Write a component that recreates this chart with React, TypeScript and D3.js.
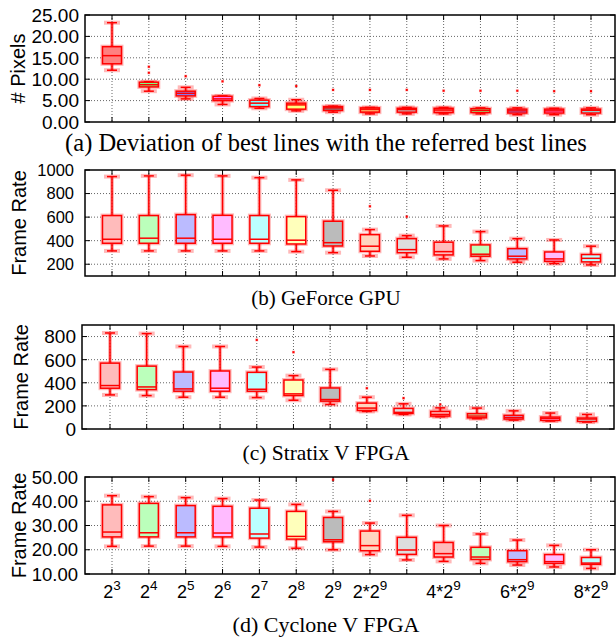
import React from "react";
import * as d3 from "d3";

const xBase = ["2", "2", "2", "2", "2", "2", "2", "2*2", "", "4*2", "", "6*2", "", "8*2"];
const xExp = ["3", "4", "5", "6", "7", "8", "9", "9", "", "9", "", "9", "", "9"];

const lightColors = ["#ffbbbb", "#bbffbb", "#bbbbff", "#ffbbff", "#bbffff", "#ffffbb", "#bbbbbb", "#ffd5bf", "#dddddd", "#ffbbbb", "#bbffbb", "#bbbbff", "#ffbbff", "#bbffff"];
const strongColors = ["#ff8080", "#80ff80", "#8080ff", "#ff80ff", "#80ffff", "#ffff80", "#808080", "#ffa060", "#c0c0c0", "#ff8080", "#80ff80", "#8080ff", "#ff80ff", "#80ffff"];

// (a) Deviation (# Pixels)
const pixMax = [23.2, 9.4, 8.1, 6.1, 5.5, 5.2, 3.7, 3.4, 3.4, 3.4, 3.3, 3.3, 3.2, 3.3];
const pixQ3 = [17.6, 9.3, 7.2, 6.0, 5.1, 4.4, 3.6, 3.3, 3.2, 3.2, 3.1, 3.0, 3.0, 3.0];
const pixMed = [15.5, 8.7, 6.7, 5.4, 4.4, 4.0, 3.3, 3.0, 2.9, 2.8, 2.7, 2.6, 2.6, 2.7];
const pixQ1 = [13.6, 8.2, 6.1, 5.0, 3.6, 3.0, 2.7, 2.3, 2.3, 2.2, 2.2, 2.1, 2.1, 2.1];
const pixMin = [12.1, 7.2, 5.4, 4.1, 3.2, 2.6, 2.3, 1.9, 1.9, 1.9, 1.9, 1.7, 1.7, 1.7];
const pixOut = [[], [12.9, 11.5], [10.7], [9.5], [8.6], [8.4], [7.5], [7.5], [7.5], [7.3], [7.3], [7.3], [7.2], [7.2]];
const pixTicks = [0, 5, 10, 15, 20, 25];

// (b) GeForce GPU
const gpuMax = [944, 950, 956, 950, 935, 916, 828, 494, 443, 525, 477, 417, 406, 353];
const gpuQ3 = [613, 613, 621, 615, 613, 604, 565, 451, 417, 387, 364, 332, 304, 282];
const gpuMed = [412, 421, 421, 412, 412, 404, 383, 353, 324, 307, 285, 268, 245, 250];
const gpuQ1 = [378, 378, 378, 378, 378, 372, 355, 310, 298, 279, 268, 245, 225, 220];
const gpuMin = [313, 313, 313, 313, 313, 307, 298, 270, 259, 245, 231, 217, 205, 194];
const gpuOut = [[], [], [], [], [], [], [], [692], [604], [], [], [], [], []];
const gpuTicks = [200, 400, 600, 800, 1000];

// (c) Stratix V FPGA
const strMax = [831, 826, 714, 714, 536, 462, 516, 275, 218, 183, 181, 157, 138, 126];
const strQ3 = [570, 544, 493, 502, 490, 424, 355, 224, 178, 152, 132, 118, 103, 95];
const strMed = [376, 364, 347, 353, 344, 304, 255, 181, 144, 126, 112, 100, 92, 86];
const strQ1 = [353, 341, 327, 327, 327, 290, 241, 161, 135, 112, 97, 86, 75, 66];
const strMin = [295, 289, 275, 275, 272, 249, 212, 152, 126, 106, 89, 77, 69, 60];
const strOut = [[], [], [], [], [771], [665], [], [353], [267], [212], [], [], [], []];
const strTicks = [0, 200, 400, 600, 800];

// (d) Cyclone V FPGA
const cycMax = [42.3, 41.9, 41.5, 41.1, 40.5, 38.7, 35.8, 31.0, 34.2, 30.0, 26.5, 24.0, 21.8, 20.0];
const cycQ3 = [38.5, 39.1, 38.2, 37.9, 37.1, 35.8, 33.3, 27.7, 25.1, 23.0, 21.0, 19.6, 18.0, 16.8];
const cycMed = [27.3, 27.0, 27.0, 26.9, 26.5, 25.5, 24.1, 21.7, 19.9, 18.4, 17.0, 15.9, 15.1, 14.5];
const cycQ1 = [25.3, 25.3, 25.3, 25.3, 24.8, 24.4, 23.3, 19.6, 18.1, 17.0, 16.0, 15.1, 14.4, 14.0];
const cycMin = [21.4, 21.5, 21.5, 21.4, 21.1, 20.6, 20.0, 18.0, 15.8, 15.2, 14.4, 13.7, 12.9, 12.3];
const cycOut = [[], [], [], [], [], [], [48.9], [40.2], [], [], [], [], [], []];
const cycTicks = [10, 20, 30, 40, 50];

const SANS = "'Liberation Sans', Arial, Helvetica, sans-serif";
const SERIF = "'Liberation Serif', 'Times New Roman', Times, serif";
const RED = "#ff0000";
const HALO = "rgba(255,0,0,0.28)";

type PanelProps = {
  mx: number[]; q3: number[]; med: number[]; q1: number[]; mn: number[]; out: number[][];
  ticks: number[]; domain: [number, number]; fmt: (v: number) => string; tickSize: number;
  left: number; top: number; right: number; bottom: number; x0: number; x1: number;
  labelEnd: number; ylabel: string; ylabelX: number; caption: string; captionY: number; captionSize: number;
  colors: string[]; showX: boolean;
};

function Panel(p: PanelProps) {
  const n = p.med.length;
  const x = d3.scaleLinear().domain([0, n - 1]).range([p.x0, p.x1]);
  const y = d3.scaleLinear().domain(p.domain).range([p.bottom, p.top]);
  const bw = 19;
  const cap = 8;
  const idx = d3.range(n);
  return (
    <g>
      {p.ticks.filter(t => y(t) > p.top + 1 && y(t) < p.bottom - 1).map(t => (
        <line key={"gy" + t} x1={p.left} x2={p.right} y1={y(t)} y2={y(t)} stroke="#666" strokeWidth={1} strokeDasharray="1,2" />
      ))}
      {idx.map(i => (
        <line key={"gx" + i} x1={x(i)} x2={x(i)} y1={p.top} y2={p.bottom} stroke="#666" strokeWidth={1} strokeDasharray="1,2" />
      ))}
      {p.ticks.map(t => (
        <g key={"tk" + t}>
          <line x1={p.left} x2={p.left + 5} y1={y(t)} y2={y(t)} stroke="#000" strokeWidth={1} />
          <line x1={p.right - 5} x2={p.right} y1={y(t)} y2={y(t)} stroke="#000" strokeWidth={1} />
          <text x={p.labelEnd} y={y(t)} dy="0.36em" textAnchor="end" fontFamily={SANS} fontSize={p.tickSize} fill="#000">{p.fmt(t)}</text>
        </g>
      ))}
      {idx.map(i => (
        <g key={"xt" + i}>
          <line x1={x(i)} x2={x(i)} y1={p.bottom} y2={p.bottom - 5} stroke="#000" strokeWidth={1} />
          <line x1={x(i)} x2={x(i)} y1={p.top} y2={p.top + 5} stroke="#000" strokeWidth={1} />
        </g>
      ))}
      {idx.map(i => {
        const cx = x(i);
        const yq3 = y(p.q3[i]);
        const yq1 = y(p.q1[i]);
        const ym = y(p.med[i]);
        const yMax = y(p.mx[i]);
        const yMin = y(p.mn[i]);
        return (
          <g key={"b" + i}>
            <g stroke={HALO} strokeWidth={4} fill="none">
              <line x1={cx} x2={cx} y1={yMax} y2={yq3} />
              <line x1={cx} x2={cx} y1={yq1} y2={yMin} />
              <line x1={cx - cap} x2={cx + cap} y1={yMax} y2={yMax} />
              <line x1={cx - cap} x2={cx + cap} y1={yMin} y2={yMin} />
              <rect x={cx - bw / 2} y={yq3} width={bw} height={Math.max(1, yq1 - yq3)} />
            </g>
            <rect x={cx - bw / 2} y={yq3} width={bw} height={Math.max(1, yq1 - yq3)} fill={p.colors[i]} stroke={RED} strokeWidth={1.5} />
            <g stroke={RED} strokeWidth={1.5}>
              <line x1={cx} x2={cx} y1={yMax} y2={yq3} />
              <line x1={cx} x2={cx} y1={yq1} y2={yMin} />
              <line x1={cx - cap / 2 - 1} x2={cx + cap / 2 + 1} y1={yMax} y2={yMax} />
              <line x1={cx - cap / 2 - 1} x2={cx + cap / 2 + 1} y1={yMin} y2={yMin} />
              <line x1={cx - bw / 2} x2={cx + bw / 2} y1={ym} y2={ym} />
            </g>
            {p.out[i].map((o, k) => (
              <rect key={k} x={cx - 1} y={y(o) - 1} width={2} height={2} fill={RED} stroke={HALO} strokeWidth={1} />
            ))}
          </g>
        );
      })}
      <rect x={p.left} y={p.top} width={p.right - p.left} height={p.bottom - p.top} fill="none" stroke="#000" strokeWidth={1.5} />
      <text transform={`translate(${p.ylabelX},${(p.top + p.bottom) / 2}) rotate(-90)`} textAnchor="middle" dy="0.36em" fontFamily={SANS} fontSize={20} fill="#000">{p.ylabel}</text>
      {p.showX && idx.map(i => xBase[i] ? (
        <text key={"xl" + i} x={x(i)} y={p.bottom + 24} textAnchor="middle" fontFamily={SANS} fontSize={18} fill="#000">
          {xBase[i]}
          <tspan dy={-8} fontSize={13.5}>{xExp[i]}</tspan>
        </text>
      ) : null)}
      <text x={326} y={p.captionY} textAnchor="middle" fontFamily={SERIF} fontSize={p.captionSize} fill="#000">{p.caption}</text>
    </g>
  );
}

const f2 = (v: number) => v.toFixed(2);
const f0 = (v: number) => String(v);

export default function App() {
  return (
    <svg width={616} height={637} style={{ position: "absolute", left: 0, top: 0, background: "#fff" }}>
      <rect width={616} height={637} fill="#fff" />
      <Panel mx={pixMax} q3={pixQ3} med={pixMed} q1={pixQ1} mn={pixMin} out={pixOut}
        ticks={pixTicks} domain={[0, 25]} fmt={f2} tickSize={19}
        left={85} top={15} right={615} bottom={122} x0={112} x1={591}
        labelEnd={79} ylabel="# Pixels" ylabelX={18} caption="(a) Deviation of best lines with the referred best lines" captionY={151} captionSize={24.5}
        colors={strongColors} showX={false} />
      <Panel mx={gpuMax} q3={gpuQ3} med={gpuMed} q1={gpuQ1} mn={gpuMin} out={gpuOut}
        ticks={gpuTicks} domain={[100, 1000]} fmt={f0} tickSize={16.5}
        left={85} top={170} right={615} bottom={276} x0={112} x1={591}
        labelEnd={74} ylabel="Frame Rate" ylabelX={19} caption="(b) GeForce GPU" captionY={305} captionSize={21}
        colors={lightColors} showX={false} />
      <Panel mx={strMax} q3={strQ3} med={strMed} q1={strQ1} mn={strMin} out={strOut}
        ticks={strTicks} domain={[0, 900]} fmt={f0} tickSize={19}
        left={82} top={325} right={614} bottom={429} x0={110} x1={587}
        labelEnd={76} ylabel="Frame Rate" ylabelX={21} caption="(c) Stratix V FPGA" captionY={460} captionSize={21.5}
        colors={lightColors} showX={false} />
      <Panel mx={cycMax} q3={cycQ3} med={cycMed} q1={cycQ1} mn={cycMin} out={cycOut}
        ticks={cycTicks} domain={[10, 50]} fmt={f2} tickSize={18.5}
        left={85} top={477} right={615} bottom={574} x0={112} x1={591}
        labelEnd={78} ylabel="Frame Rate" ylabelX={19} caption="(d) Cyclone V FPGA" captionY={632} captionSize={22}
        colors={lightColors} showX={true} />
    </svg>
  );
}
